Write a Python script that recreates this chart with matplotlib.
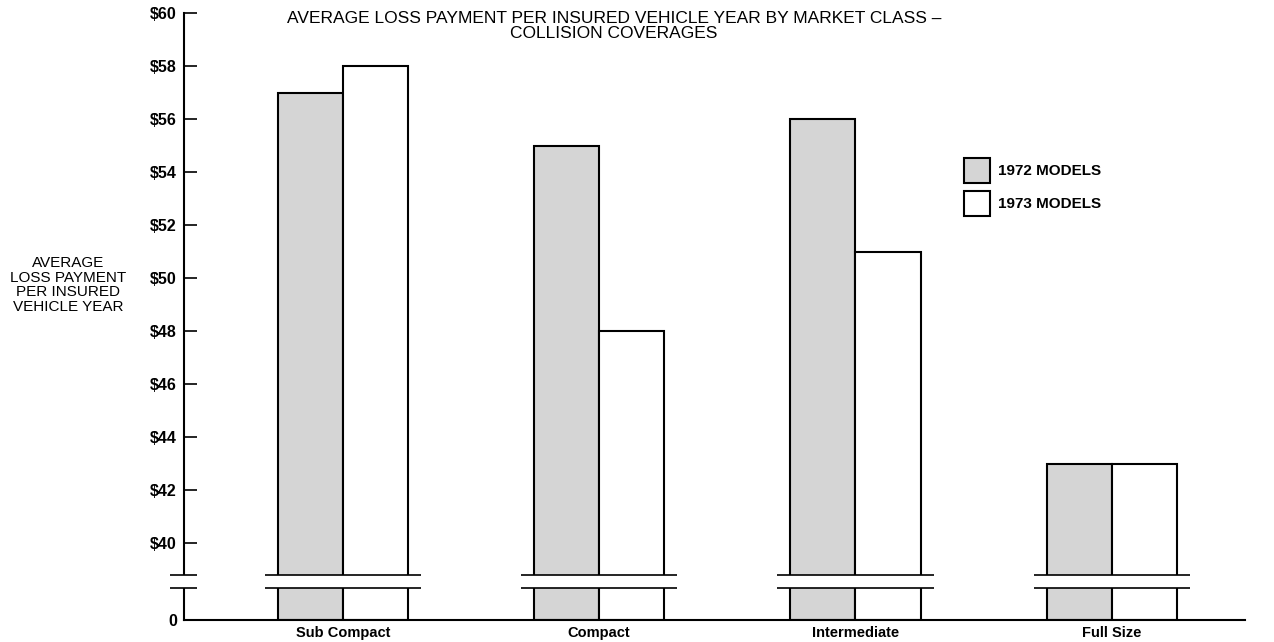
import numpy as np
import matplotlib
matplotlib.use("Agg")
import matplotlib.pyplot as plt
from matplotlib.patches import Patch, Rectangle
from matplotlib.transforms import blended_transform_factory

classes = ["Sub Compact", "Compact", "Intermediate", "Full Size"]
models_1972 = [57, 55, 56, 43]
models_1973 = [58, 48, 51, 43]
series_names = ["1972 MODELS", "1973 MODELS"]
tick_values = [0] + list(range(40, 62, 2))
tick_labels = ["0"] + [f"${v}" for v in range(40, 62, 2)]

plt.rcParams["font.family"] = ["Liberation Sans", "DejaVu Sans"]

# below $40 the axis is squeezed into a short stub (0 .. 40 -> 37.1 .. 40)
def fwd(v):
    v = np.asarray(v, dtype=float)
    return np.where(v >= 40, v, 37.1 + v * 2.9 / 40)

def inv(u):
    u = np.asarray(u, dtype=float)
    return np.where(u >= 40, u, (u - 37.1) * 40 / 2.9)

fig = plt.figure(figsize=(12.74, 6.42), dpi=100)
ax = fig.add_axes([184 / 1274, 1 - 620 / 642, (1245 - 184) / 1274, (620 - 13) / 642])
ax.set_yscale("function", functions=(fwd, inv))
ax.set_ylim(0, 60)
ax.set_xlim(-0.62, 3.52)

x = np.arange(len(classes))
w = 0.254
gray = "#d5d5d5"
ax.bar(x - w / 2, models_1972, w, color=gray, edgecolor="black", linewidth=1.5, zorder=2)
ax.bar(x + w / 2, models_1973, w, color="white", edgecolor="black", linewidth=1.5, zorder=2)

# axis break band
lo, hi = 16.5, 23.3
tr = blended_transform_factory(ax.transAxes, ax.transData)
ax.add_patch(Rectangle((-0.02, lo), 1.03, hi - lo, transform=tr, facecolor="white",
                       edgecolor="none", zorder=4, clip_on=False))
for y in (lo, hi):
    ax.hlines(y, -0.675, -0.569, color="black", lw=1.2, zorder=5, clip_on=False)
    ax.hlines([y] * len(x), x - 0.305, x + 0.305, color="black", lw=1.2, zorder=5)

for s in ("top", "right"):
    ax.spines[s].set_visible(False)
ax.spines["left"].set_linewidth(1.5)
ax.spines["bottom"].set_linewidth(1.5)

ax.set_yticks(tick_values)
ax.set_yticklabels(tick_labels, fontsize=11.5, fontweight="bold")
ax.yaxis.set_minor_locator(matplotlib.ticker.NullLocator())
ax.tick_params(axis="y", direction="in", length=9.5, width=1.2, pad=5)
ax.get_yticklines()[0].set_visible(False)
ax.get_yticklines()[1].set_visible(False)

ax.set_xticks(x)
ax.set_xticklabels(classes, fontsize=10.5, fontweight="bold")
ax.tick_params(axis="x", length=0, pad=4)

fig.text(614 / 1274, 1 - 11 / 642,
         "AVERAGE LOSS PAYMENT PER INSURED VEHICLE YEAR BY MARKET CLASS –\nCOLLISION COVERAGES",
         ha="center", va="top", fontsize=12.5, linespacing=1.0,
         family=["Liberation Sans Narrow", "Liberation Sans", "DejaVu Sans"])

fig.text(68 / 1274, 1 - 285 / 642, "AVERAGE\nLOSS PAYMENT\nPER INSURED\nVEHICLE YEAR",
         ha="center", va="center", fontsize=11, linespacing=1.05)

handles = [Patch(facecolor=gray, edgecolor="black", linewidth=1.5),
           Patch(facecolor="white", edgecolor="black", linewidth=1.5)]
ax.legend(handles, series_names, loc="upper left",
          bbox_to_anchor=(964 / 1274, 1 - 158 / 642), bbox_transform=fig.transFigure,
          frameon=False, borderpad=0, borderaxespad=0, handlelength=1.7,
          handleheight=2.15, labelspacing=0.5, handletextpad=0.5,
          prop={"size": 11, "weight": "bold"})

fig.savefig("out.png", dpi=100)
